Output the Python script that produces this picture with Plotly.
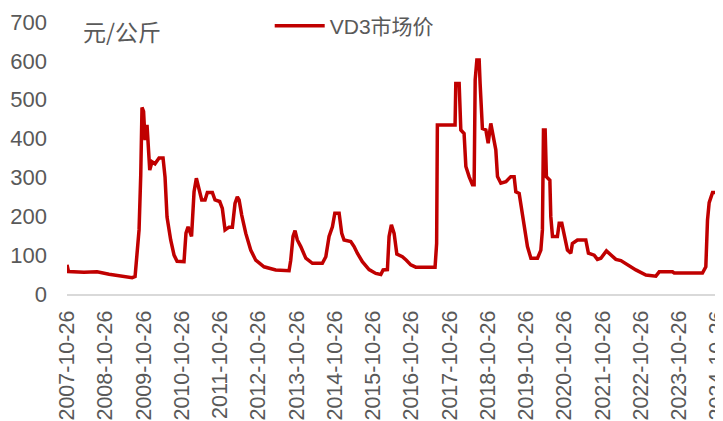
import plotly.graph_objects as go

dates = [
    "2007-10-26", "2007-11-09", "2008-04-05", "2008-06-21", "2008-08-08", "2008-12-01",
    "2009-04-04", "2009-07-09", "2009-08-06", "2009-08-25", "2009-09-13", "2009-09-29",
    "2009-10-11", "2009-10-26", "2009-11-09", "2009-11-28", "2009-12-24", "2010-01-15",
    "2010-02-12", "2010-03-23", "2010-04-30", "2010-05-19", "2010-06-07", "2010-07-12",
    "2010-08-13", "2010-09-11", "2010-11-16", "2010-12-05", "2010-12-25", "2011-01-27",
    "2011-02-20", "2011-03-14", "2011-04-09", "2011-05-04", "2011-06-05", "2011-06-27",
    "2011-08-14", "2011-09-08", "2011-10-23", "2011-11-17", "2011-12-13", "2012-01-20",
    "2012-02-21", "2012-03-17", "2012-04-08", "2012-04-25", "2012-05-20", "2012-06-28",
    "2012-08-14", "2012-10-01", "2012-12-19", "2013-04-10", "2013-08-15", "2013-08-31",
    "2013-09-22", "2013-10-11", "2013-11-02", "2013-12-05", "2014-01-22", "2014-03-26",
    "2014-06-29", "2014-08-01", "2014-09-01", "2014-10-03", "2014-10-26", "2014-12-06",
    "2014-12-31", "2015-01-22", "2015-03-27", "2015-04-28", "2015-05-29", "2015-07-16",
    "2015-09-18", "2015-11-21", "2016-01-08", "2016-01-30", "2016-03-11", "2016-03-27",
    "2016-04-18", "2016-05-14", "2016-06-09", "2016-08-01", "2016-09-08", "2016-10-20",
    "2016-12-07", "2017-06-09", "2017-06-24", "2017-07-01", "2017-12-17", "2017-12-24",
    "2018-01-25", "2018-01-30", "2018-02-10", "2018-03-13", "2018-03-30", "2018-04-30",
    "2018-06-01", "2018-06-17", "2018-06-27", "2018-07-13", "2018-08-04", "2018-08-13",
    "2018-09-04", "2018-10-07", "2018-10-29", "2018-11-23", "2018-12-15", "2019-01-10",
    "2019-01-26", "2019-02-27", "2019-04-16", "2019-06-02", "2019-07-04", "2019-07-20",
    "2019-08-21", "2019-09-06", "2019-10-08", "2019-11-08", "2019-12-11", "2020-02-12",
    "2020-03-15", "2020-03-30", "2020-04-09", "2020-04-25", "2020-05-07", "2020-06-09",
    "2020-06-18", "2020-07-04", "2020-08-20", "2020-09-06", "2020-10-01", "2020-10-23",
    "2020-11-24", "2020-12-26", "2021-01-10", "2021-02-27", "2021-05-18", "2021-06-12",
    "2021-08-06", "2021-09-06", "2021-10-09", "2021-12-01", "2022-01-12", "2022-03-01",
    "2022-04-18", "2022-06-20", "2022-09-08", "2022-12-13", "2023-03-18", "2023-04-19",
    "2023-08-24", "2023-09-09", "2024-06-05", "2024-07-07", "2024-07-23", "2024-08-08",
    "2024-09-09", "2024-10-17", "2024-10-29", "2024-11-12", "2024-12-01",
]

vd3_price = [
    75, 58, 56, 58, 57, 51,
    47, 42, 45, 96, 165, 306,
    480, 470, 396, 435, 319, 340,
    335, 350, 350, 301, 198, 139,
    100, 84, 83, 157, 173, 148,
    263, 298, 272, 242, 242, 261,
    261, 242, 238, 220, 165, 172,
    172, 233, 250, 242, 203, 156,
    113, 87, 70, 62, 60, 87,
    148, 163, 139, 122, 92, 79,
    79, 96, 148, 173, 208, 208,
    156, 139, 135, 122, 105, 83,
    63, 53, 50, 62, 63, 148,
    178, 156, 103, 96, 87, 75,
    69, 69, 130, 435, 435, 542,
    542, 473, 422, 413, 328, 302,
    281, 281, 551, 602, 602, 542,
    426, 422, 388, 439, 405, 371,
    302, 285, 289, 302, 302, 263,
    259, 229, 182, 122, 92, 92,
    113, 165, 422, 422, 302, 293,
    199, 148, 148, 182, 182, 156,
    113, 105, 130, 139, 139, 105,
    100, 89, 92, 111, 100, 89,
    86, 75, 62, 49, 46, 57,
    57, 54, 54, 70, 190, 235,
    261, 261, 238, 255, 255,
]

tick_labels = [f"{y}-10-26" for y in range(2007, 2025)]
y_ticks = [0, 100, 200, 300, 400, 500, 600, 700]

series_name = "VD3市场价"
unit_label = "元/公斤"

fig = go.Figure()
fig.add_trace(go.Scatter(
    x=dates, y=vd3_price, mode="lines", name=series_name,
    line=dict(color="#C00000", width=3.5),
))

# page body has an 8px margin, so the figure is sized to fit the 723x421 window
fig.update_layout(
    width=715, height=413,
    margin=dict(l=59, r=0, t=14, b=127, autoexpand=False),
    paper_bgcolor="white", plot_bgcolor="white",
    font=dict(family="Liberation Sans, Arial, Noto Sans CJK SC", color="#595959", size=20),
    showlegend=True,
    legend=dict(
        orientation="h", x=0.309, y=0.985, xanchor="left", yanchor="middle",
        itemwidth=50,
        font=dict(family="Liberation Sans, Noto Sans CJK SC", size=21, color="#595959"),
        bgcolor="rgba(0,0,0,0)",
    ),
    annotations=[dict(
        text=unit_label, xref="paper", yref="paper", x=0.022, y=0.968,
        xanchor="left", yanchor="middle", showarrow=False,
        font=dict(family="Noto Sans CJK SC", size=23, color="#595959"),
    )],
)

fig.update_xaxes(
    type="date", range=["2007-10-26", "2024-12-18"],
    tickvals=tick_labels, ticktext=tick_labels, tickangle=-90,
    showgrid=False, showline=True, linecolor="#D9D9D9", linewidth=2,
    ticks="", zeroline=False, automargin=False, ticklabeloverflow="allow",
    ticklabelstandoff=6,
    tickfont=dict(family="Liberation Sans, Arial", size=21.5, color="#595959"),
)
fig.update_yaxes(
    range=[0, 700], tickvals=y_ticks, showgrid=False, zeroline=False,
    showline=False, ticks="", ticklabelstandoff=19, automargin=False,
    tickfont=dict(family="Liberation Sans, Arial", size=22, color="#595959"),
)

fig.write_html("out.html")
